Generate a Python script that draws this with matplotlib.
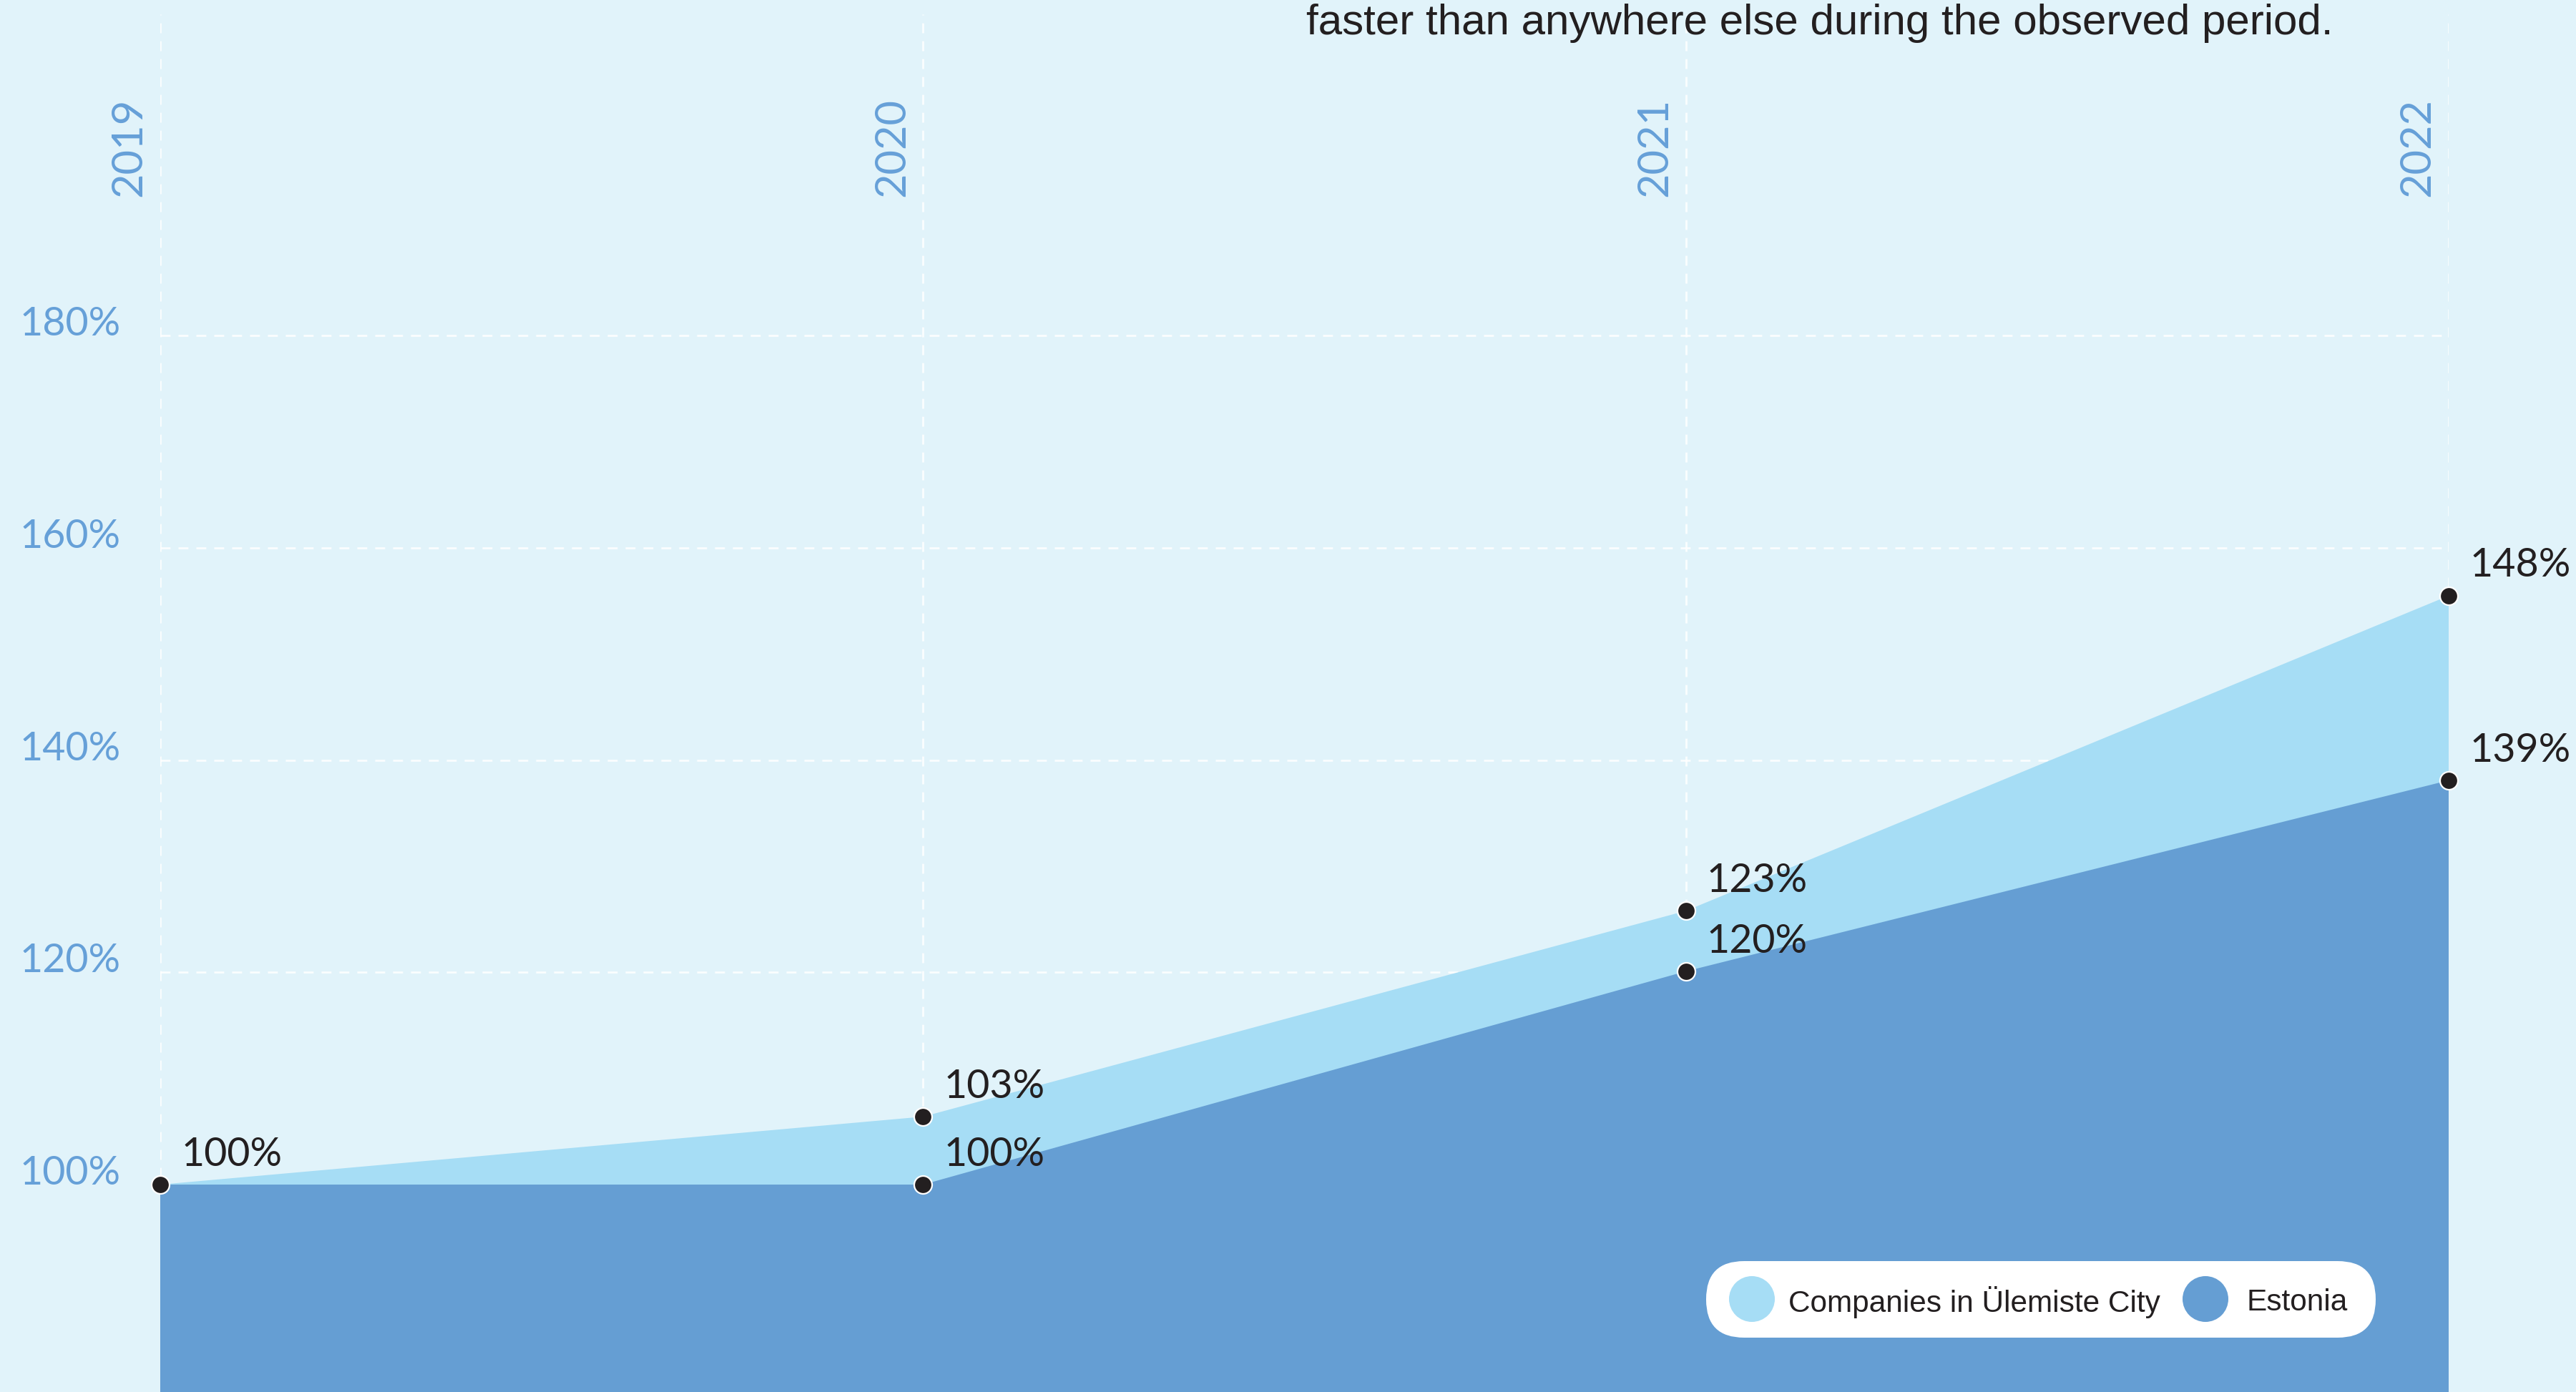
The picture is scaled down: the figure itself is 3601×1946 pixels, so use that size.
import matplotlib
matplotlib.use("Agg")
import matplotlib.pyplot as plt
from matplotlib.patches import FancyBboxPatch, Circle
from matplotlib.transforms import IdentityTransform, blended_transform_factory

# ---- data ----
years = [2019, 2020, 2021, 2022]
year_labels = ["2019", "2020", "2021", "2022"]
companies = [100, 106.4, 125.8, 155.5]        # plotted level
estonia = [100, 100, 120.1, 138.1]
companies_labels = ["100%", "103%", "123%", "148%"]
estonia_labels = ["", "100%", "120%", "139%"]
yticks = [100, 120, 140, 160, 180]
ytick_labels = ["100%", "120%", "140%", "160%", "180%"]
series_names = ["Companies in Ülemiste City", "Estonia"]
subtitle = "faster than anywhere else during the observed period."

# ---- style ----
W, H, DPI = 3601, 1946, 100
BG = "#E1F3FA"
LIGHT = "#A6DDF5"
DARK = "#659ED3"
TICK = "#66A0D8"
INK = "#231F20"
NUM_FONT = "Lato"
TXT_FONT = "Liberation Sans"

fig = plt.figure(figsize=(W / DPI, H / DPI), dpi=DPI, facecolor=BG)
ax = fig.add_axes([224 / W, 0, (3423 - 224) / W, (H - 20) / H])
ax.set_facecolor(BG)
ax.set_xlim(years[0], years[-1])
ax.set_ylim(80.45, 210.3)
for s in ax.spines.values():
    s.set_visible(False)

# grid
ax.set_xticks(years)
ax.set_xticklabels([])
ax.set_yticks(yticks)
ax.set_yticklabels(ytick_labels, fontsize=40, color=TICK, family=NUM_FONT)
for t in ax.get_yticklabels():
    t.set_va("baseline")
ax.tick_params(axis="both", length=0, pad=40)
ax.grid(True, color="white", alpha=0.85, linewidth=2.0, linestyle=(0, (5, 4)))
ax.set_axisbelow(True)

# areas
ax.fill_between(years, 0, companies, color=LIGHT, linewidth=0, zorder=2)
ax.fill_between(years, 0, estonia, color=DARK, linewidth=0, zorder=3)

# points
ax.plot(years, companies, "o", color=INK, markersize=18, markeredgecolor="white",
        markeredgewidth=1.6, clip_on=False, zorder=5)
ax.plot(years[1:], estonia[1:], "o", color=INK, markersize=18, markeredgecolor="white",
        markeredgewidth=1.6, clip_on=False, zorder=5)

# value labels
for x, y, lab in zip(years, companies, companies_labels):
    ax.annotate(lab, (x, y), xytext=(21, 19), textcoords="offset points",
                ha="left", va="baseline", fontsize=40, color=INK,
                family=NUM_FONT, zorder=6, annotation_clip=False)
for x, y, lab in zip(years, estonia, estonia_labels):
    if lab:
        ax.annotate(lab, (x, y), xytext=(21, 19), textcoords="offset points",
                    ha="left", va="baseline", fontsize=40, color=INK,
                    family=NUM_FONT, zorder=6, annotation_clip=False)

# year labels at top (rotated)
trans = blended_transform_factory(ax.transData, ax.transAxes)
for x, lab in zip(years, year_labels):
    ax.annotate(lab, (x, (H - 275) / (H - 20)), xycoords=trans,
                xytext=(-19, 0), textcoords="offset points",
                rotation=90, rotation_mode="anchor", ha="left", va="baseline",
                fontsize=43, color=TICK, family=NUM_FONT)

# subtitle (partially visible text line)
fig.text(1826 / W, (H - 48) / H, subtitle, ha="left", va="baseline",
         fontsize=43.3, color=INK, family=TXT_FONT)

# legend pill
idt = IdentityTransform()
pill = FancyBboxPatch((2385, H - 1870), 936, 107,
                      boxstyle="round,pad=0,rounding_size=53",
                      transform=idt, facecolor="white", edgecolor="none", zorder=10)
fig.add_artist(pill)
cy = H - 1816
fig.add_artist(Circle((2449, cy), 32, transform=idt, facecolor=LIGHT,
                      edgecolor="none", zorder=11))
fig.add_artist(Circle((3083, cy), 32, transform=idt, facecolor=DARK,
                      edgecolor="none", zorder=11))
fig.text(2500 / W, cy / H, series_names[0], ha="left", va="center_baseline",
         fontsize=30.5, color=INK, family=TXT_FONT, zorder=12)
fig.text(3141 / W, cy / H, series_names[1], ha="left", va="center_baseline",
         fontsize=30.5, color=INK, family=TXT_FONT, zorder=12)

fig.savefig("out.png", dpi=DPI, facecolor=BG)
